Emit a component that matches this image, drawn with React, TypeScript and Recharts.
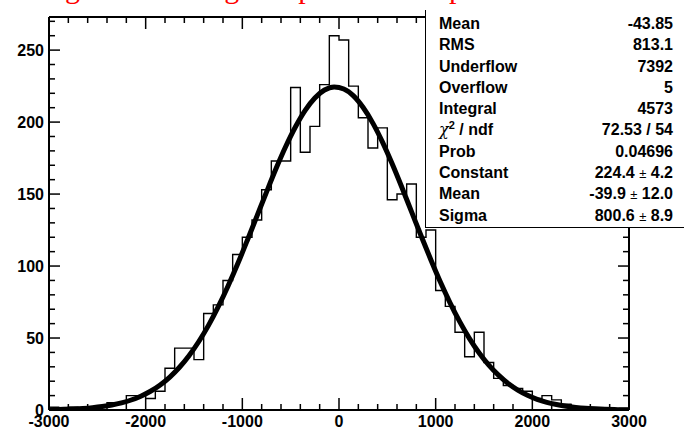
import { ComposedChart, Line, XAxis, YAxis } from 'recharts';

// histogram: 60 bins of width 100 from -3000 to 3000
const binStart = -3000;
const binWidth = 100;
const binCounts = [
  2, 1, 2, 1, 2, 3, 5, 5, 10, 10,
  8, 13, 29, 43, 43, 35, 67, 73, 90, 108,
  120, 132, 153, 173, 173, 224, 179, 197, 226, 260,
  257, 225, 203, 182, 196, 146, 150, 157, 120, 125,
  83, 72, 54, 37, 54, 33, 22, 17, 15, 13,
  8, 10, 7, 4, 2, 2, 1, 1, 0, 1,
];

// gaussian fit curve, read at -3000, every bin centre, and 3000
const fitValues = [
  0.24,
  0.3, 0.47, 0.73, 1.1, 1.64, 2.42, 3.49, 4.97, 6.95, 9.6,
  13.0, 17.4, 22.9, 29.7, 37.9, 47.6, 58.8, 71.6, 85.8, 101.2,
  117.6, 134.5, 151.4, 167.9, 183.2, 196.8, 208.2, 216.8, 222.3, 224.4,
  223.0, 218.2, 210.1, 199.3, 186.1, 171.0, 154.7, 137.8, 120.9, 104.4,
  88.7, 74.3, 61.2, 49.6, 39.6, 31.2, 24.2, 18.4, 13.8, 10.2,
  7.4, 5.3, 3.8, 2.6, 1.8, 1.2, 0.8, 0.5, 0.3, 0.2,
  0.17,
];

const xTicks = [
  -3000, -2800, -2600, -2400, -2200, -2000, -1800, -1600, -1400, -1200, -1000,
  -800, -600, -400, -200, 0, 200, 400, 600, 800, 1000,
  1200, 1400, 1600, 1800, 2000, 2200, 2400, 2600, 2800, 3000,
];
const yTicks = [
  0, 10, 20, 30, 40, 50, 60, 70, 80, 90, 100, 110, 120, 130, 140, 150,
  160, 170, 180, 190, 200, 210, 220, 230, 240, 250, 260, 270,
];

const statLabels = ['Mean', 'RMS', 'Underflow', 'Overflow', 'Integral', 'CHI', 'Prob', 'Constant', 'Mean', 'Sigma'];
const statValues = ['-43.85', '813.1', '7392', '5', '4573', '72.53 / 54', '0.04696', '224.4 \u00b1 4.2', '-39.9 \u00b1 12.0', '800.6 \u00b1 8.9'];

const title = 'Fitting the normal gauss peak in the spectrum';

const histData = binCounts
  .map((c, i) => ({ x: binStart + i * binWidth, y: c }))
  .concat([{ x: binStart + binCounts.length * binWidth, y: binCounts[binCounts.length - 1] }]);

const fitData = fitValues.map((v, i) => ({
  x: i === 0 ? binStart : i === fitValues.length - 1 ? -binStart : binStart + (i - 0.5) * binWidth,
  y: v,
}));

const font = '"Liberation Sans", Arial, Helvetica, sans-serif';

const BottomTick = (props: any) => {
  const { x, y, payload } = props;
  const major = payload.value % 1000 === 0;
  return (
    <g>
      <line x1={x} x2={x} y1={y} y2={y - (major ? 12 : 6)} stroke="#000" strokeWidth={1.5} />
      {major && (
        <text x={x} y={y + 17} textAnchor="middle" fontFamily={font} fontWeight="bold" fontSize={16} fill="#000">
          {payload.value}
        </text>
      )}
    </g>
  );
};

const TopTick = (props: any) => {
  const { x, y, payload } = props;
  const major = payload.value % 1000 === 0;
  return <line x1={x} x2={x} y1={y} y2={y + (major ? 12 : 6)} stroke="#000" strokeWidth={1.5} />;
};

const LeftTick = (props: any) => {
  const { x, y, payload } = props;
  const major = payload.value % 50 === 0;
  return (
    <g>
      <line x1={x} x2={x + (major ? 11 : 6)} y1={y} y2={y} stroke="#000" strokeWidth={1.5} />
      {major && (
        <text x={x - 5} y={y + 6} textAnchor="end" fontFamily={font} fontWeight="bold" fontSize={16} fill="#000">
          {payload.value}
        </text>
      )}
    </g>
  );
};

const RightTick = (props: any) => {
  const { x, y, payload } = props;
  const major = payload.value % 50 === 0;
  return <line x1={x} x2={x - (major ? 11 : 6)} y1={y} y2={y} stroke="#000" strokeWidth={1.5} />;
};

const axisLine = { stroke: '#000', strokeWidth: 2 };

export default function App() {
  return (
    <div style={{ position: 'absolute', left: 0, top: 0, width: 684, height: 430, background: '#fff', overflow: 'hidden' }}>
      <ComposedChart width={684} height={430} margin={{ top: 16, right: 54, bottom: 0, left: 0 }}>
        <XAxis
          dataKey="x"
          type="number"
          domain={[-3000, 3000]}
          ticks={xTicks}
          interval={0}
          tickSize={0}
          tickMargin={0}
          tickLine={false}
          tick={BottomTick}
          axisLine={axisLine}
          height={20}
          allowDataOverflow
        />
        <XAxis
          xAxisId="top"
          orientation="top"
          dataKey="x"
          type="number"
          domain={[-3000, 3000]}
          ticks={xTicks}
          interval={0}
          tickSize={0}
          tickMargin={0}
          tickLine={false}
          tick={TopTick}
          axisLine={axisLine}
          height={1}
          allowDataOverflow
        />
        <YAxis
          type="number"
          domain={[0, 273]}
          ticks={yTicks}
          interval={0}
          tickSize={0}
          tickMargin={0}
          tickLine={false}
          tick={LeftTick}
          axisLine={axisLine}
          width={49}
          allowDataOverflow
        />
        <YAxis
          yAxisId="right"
          orientation="right"
          type="number"
          domain={[0, 273]}
          ticks={yTicks}
          interval={0}
          tickSize={0}
          tickMargin={0}
          tickLine={false}
          tick={RightTick}
          axisLine={axisLine}
          width={1}
          allowDataOverflow
        />
        <Line
          data={histData}
          dataKey="y"
          type="stepAfter"
          stroke="#000"
          strokeWidth={1.4}
          dot={false}
          activeDot={false}
          isAnimationActive={false}
        />
        <Line
          data={fitData}
          xAxisId="top"
          yAxisId="right"
          dataKey="y"
          type="monotone"
          stroke="#000"
          strokeWidth={5}
          dot={false}
          activeDot={false}
          isAnimationActive={false}
        />
      </ComposedChart>

      <div
        style={{
          position: 'absolute',
          left: 0,
          top: -27,
          whiteSpace: 'pre',
          fontFamily: '"Liberation Serif", "Times New Roman", serif',
          fontSize: 30,
          lineHeight: '30px',
          color: '#f00',
        }}
      >
        {title}
      </div>

      <div
        style={{
          position: 'absolute',
          left: 425,
          top: 10,
          width: 300,
          height: 218,
          background: '#fff',
          borderLeft: '1.5px solid #000',
          borderBottom: '1.5px solid #000',
          boxSizing: 'border-box',
          paddingTop: 3,
          fontFamily: font,
          fontWeight: 'bold',
          fontSize: 16,
          color: '#000',
        }}
      >
        {statLabels.map((label, i) => (
          <div
            key={i}
            style={{
              position: 'relative',
              height: 21.3,
              lineHeight: '21.3px',
              paddingLeft: 13,
              width: 247,
              boxSizing: 'border-box',
              display: 'flex',
              justifyContent: 'space-between',
            }}
          >
            <span>
              {label === 'CHI' ? (
                <>
                  <span style={{ fontFamily: '"DejaVu Serif", serif', fontWeight: 'normal', fontStyle: 'italic' }}>{'\u03c7'}</span>
                  <sup style={{ fontSize: 11, lineHeight: 0 }}>2</sup>
                  {' / ndf'}
                </>
              ) : (
                label
              )}
            </span>
            <span>
              {statValues[i].split('\u00b1').map((part, j) =>
                j === 0 ? (
                  <span key={j}>{part}</span>
                ) : (
                  <span key={j}>
                    <span style={{ fontWeight: 'normal', fontSize: 13 }}>{'\u00b1'}</span>
                    {part}
                  </span>
                ),
              )}
            </span>
          </div>
        ))}
      </div>
    </div>
  );
}
